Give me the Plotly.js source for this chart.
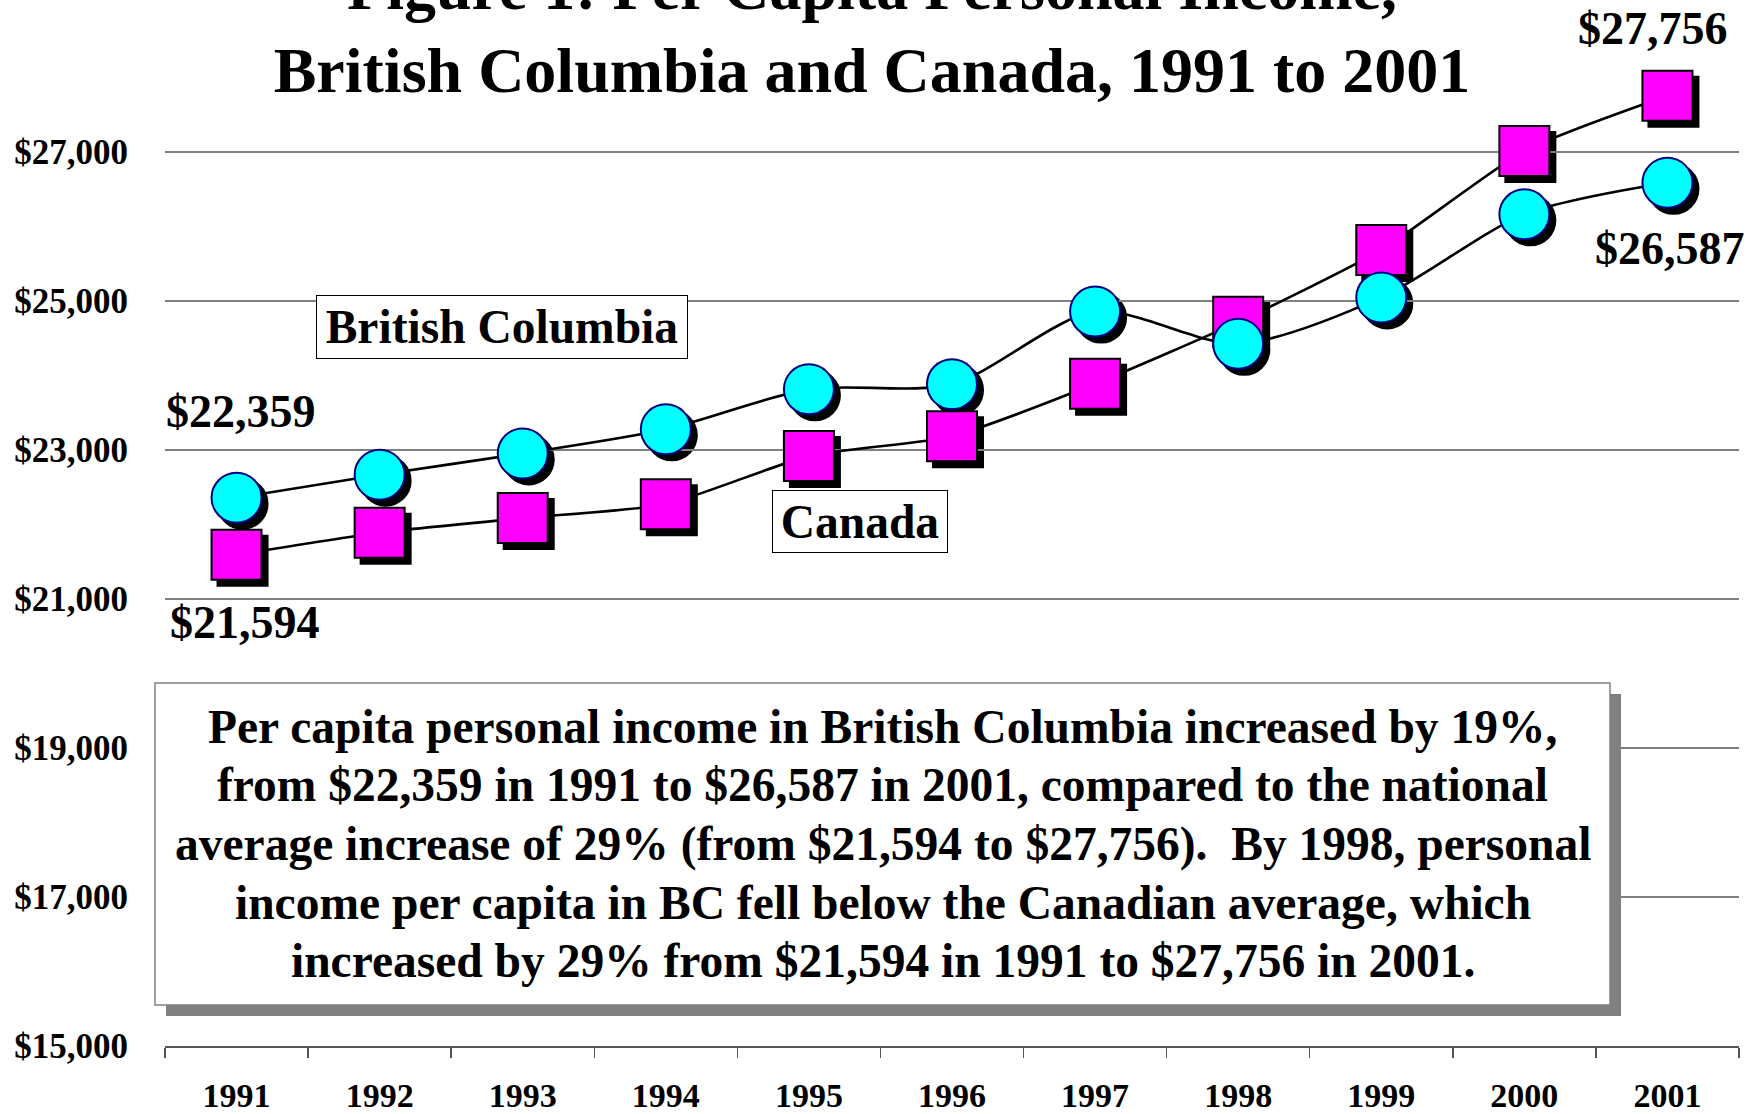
<!DOCTYPE html>
<html>
<head>
<meta charset="utf-8">
<script src="https://cdn.plot.ly/plotly-3.0.1.min.js"></script>
<style>html,body{margin:0;padding:0;background:#fff;}#chart{width:1760px;height:1114px;}</style>
</head>
<body>
<div id="chart"></div>
<script>
// ---- data ----
var years = ['1991', '1992', '1993', '1994', '1995', '1996', '1997', '1998', '1999', '2000', '2001'];
var bcIncome = [22359, 22668, 22954, 23278, 23815, 23883, 24858, 24426, 25048, 26163, 26587];
var canadaIncome = [21594, 21890, 22086, 22273, 22918, 23186, 23889, 24720, 25686, 27013, 27756];
var yTicks = [15000, 17000, 19000, 21000, 23000, 25000, 27000];
var seriesNames = ['British Columbia', 'Canada'];
var titleLines = ['Figure 1: Per Capita Personal Income,', 'British Columbia and Canada, 1991 to 2001'];
var noteLines = [
  'Per capita personal income in British Columbia increased by 19%,',
  'from $22,359 in 1991 to $26,587 in 2001, compared to the national',
  'average increase of 29% (from $21,594 to $27,756).  By 1998, personal',
  'income per capita in BC fell below the Canadian average, which',
  'increased by 29% from $21,594 in 1991 to $27,756 in 2001.'
];

// ---- layout helpers ----
var FONT = 'Liberation Serif, Times New Roman, serif';
var W = 1760, H = 1114;
var mL = 165, mR = 15, mT = 3, mB = 62;
var plotW = W - mL - mR, plotH = H - mT - mB;
var sdx = 6, sdy = 6; // marker shadow offset in px
var last = years.length - 1;
function money(v) { return '$' + v.toLocaleString('en-US'); }
function f(size, color) { return {family: FONT, size: size, color: color || '#000', weight: 'bold'}; }
function px2x(p) { return (p - mL) / plotW; }
function px2y(p) { return (H - mB - p) / plotH; }

var traces = [
  // shadows (drawn on a subplot shifted a few pixels right/down)
  {x: years, y: canadaIncome, xaxis: 'x', yaxis: 'y', mode: 'markers', hoverinfo: 'skip', showlegend: false,
   marker: {symbol: 'square', size: 50, color: '#000', line: {width: 2, color: '#000'}}},
  {x: years, y: bcIncome, xaxis: 'x', yaxis: 'y', mode: 'markers', hoverinfo: 'skip', showlegend: false,
   marker: {symbol: 'circle', size: 50, color: '#000', line: {width: 2, color: '#000'}}},
  // main series
  {x: years, y: canadaIncome, name: seriesNames[1], xaxis: 'x2', yaxis: 'y2', mode: 'lines+markers', showlegend: false,
   line: {color: '#000', width: 2.6, shape: 'spline', smoothing: 0.6},
   marker: {symbol: 'square', size: 50, color: '#FF00FF', line: {width: 2, color: '#000'}}},
  {x: years, y: bcIncome, name: seriesNames[0], xaxis: 'x2', yaxis: 'y2', mode: 'lines+markers', showlegend: false,
   line: {color: '#000', width: 2.6, shape: 'spline', smoothing: 0.8},
   marker: {symbol: 'circle', size: 50, color: '#00FFFF', line: {width: 2, color: '#000080'}}}
];

var yRange = [15000, 29000];

// note box (white panel with grey drop shadow) as layout shapes
var box = {l: 155, r: 1610, t: 683, b: 1005}, boxShadow = 11;
var shapes = [
  {type: 'rect', xref: 'paper', yref: 'paper', layer: 'above',
   x0: px2x(box.l + boxShadow), x1: px2x(box.r + boxShadow), y0: px2y(box.b + boxShadow), y1: px2y(box.t + boxShadow),
   fillcolor: '#808080', line: {width: 0}},
  {type: 'rect', xref: 'paper', yref: 'paper', layer: 'above',
   x0: px2x(box.l), x1: px2x(box.r), y0: px2y(box.b), y1: px2y(box.t),
   fillcolor: '#fff', line: {width: 1.5, color: '#808080'}}
];

var annotations = [
  // end-point value labels (x given as category index)
  {xref: 'x2', yref: 'y2', x: 0, y: bcIncome[0], text: money(bcIncome[0]), showarrow: false,
   font: f(46), xanchor: 'center', yanchor: 'middle', xshift: 4, yshift: 86},
  {xref: 'x2', yref: 'y2', x: 0, y: canadaIncome[0], text: money(canadaIncome[0]), showarrow: false,
   font: f(46), xanchor: 'center', yanchor: 'middle', xshift: 8, yshift: -68},
  {xref: 'x2', yref: 'y2', x: last, y: canadaIncome[last], text: money(canadaIncome[last]), showarrow: false,
   font: f(46), xanchor: 'center', yanchor: 'middle', xshift: -14, yshift: 67},
  {xref: 'x2', yref: 'y2', x: last, y: bcIncome[last], text: money(bcIncome[last]), showarrow: false,
   font: f(46), xanchor: 'center', yanchor: 'middle', xshift: 3, yshift: -66},
  // series labels
  {xref: 'paper', yref: 'paper', x: px2x(502), y: px2y(327), xanchor: 'center', yanchor: 'middle',
   text: seriesNames[0], showarrow: false, font: f(47.5), bgcolor: '#fff', bordercolor: '#000',
   borderwidth: 1, borderpad: 2, width: 366, height: 58},
  {xref: 'paper', yref: 'paper', x: px2x(860), y: px2y(521.5), xanchor: 'center', yanchor: 'middle',
   text: seriesNames[1], showarrow: false, font: f(47.5), bgcolor: '#fff', bordercolor: '#000',
   borderwidth: 1, borderpad: 2, width: 170, height: 57}
];
// note text, one line per annotation for exact line spacing
var noteCenter = 844, noteGap = 58.6;
noteLines.forEach(function (t, i) {
  annotations.push({xref: 'paper', yref: 'paper', x: px2x((box.l + box.r) / 2),
    y: px2y(noteCenter + (i - (noteLines.length - 1) / 2) * noteGap),
    xanchor: 'center', yanchor: 'middle', text: t, showarrow: false, font: f(47.5)});
});

var layout = {
  width: W, height: H,
  paper_bgcolor: '#fff', plot_bgcolor: 'rgba(0,0,0,0)',
  font: {family: FONT, color: '#000'},
  margin: {l: mL, r: mR, t: mT, b: mB, pad: 0},
  showlegend: false,
  title: {
    text: titleLines.join('<br>'),
    font: f(64),
    x: 872 / W, xanchor: 'center', xref: 'container',
    y: 1 - 9 / H, yanchor: 'bottom', yref: 'container'
  },
  xaxis: {domain: [sdx / plotW, 1], anchor: 'y', type: 'category', range: [-0.5, years.length - 0.5],
          visible: false, fixedrange: true},
  yaxis: {domain: [0, 1 - sdy / plotH], anchor: 'x', range: yRange, visible: false, fixedrange: true},
  xaxis2: {domain: [0, 1 - sdx / plotW], anchor: 'y2', type: 'category', range: [-0.5, years.length - 0.5],
           tickson: 'boundaries', ticks: 'outside', ticklen: 10, tickwidth: 1.5, tickcolor: '#555',
           showline: true, linecolor: '#555', linewidth: 1.5, showgrid: false, zeroline: false,
           tickfont: f(34), ticklabelstandoff: 19, automargin: false, fixedrange: true},
  yaxis2: {domain: [sdy / plotH, 1], anchor: 'x2', range: yRange, tickvals: yTicks,
           ticktext: yTicks.map(money), showgrid: true, gridcolor: '#808080', gridwidth: 1.3,
           zeroline: false, showline: false, ticks: '', tickfont: f(35), ticklabelstandoff: 36,
           automargin: false, fixedrange: true},
  shapes: shapes,
  annotations: annotations
};

Plotly.newPlot('chart', traces, layout, {staticPlot: true, displayModeBar: false});
</script>
</body>
</html>
